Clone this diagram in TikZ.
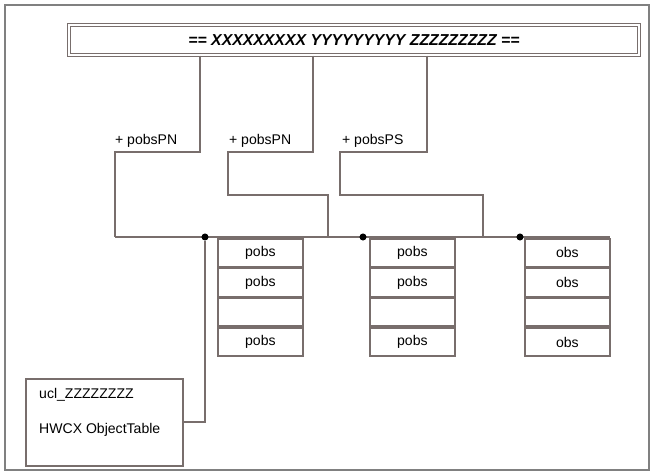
\documentclass[tikz,border=0pt]{standalone}
\usepackage{fontspec}
\setmainfont{Liberation Sans}
\usepackage{xcolor}
\usetikzlibrary{positioning, arrows.meta, calc}

\definecolor{wirecol}{RGB}{120,110,108}

\begin{document}
\begin{tikzpicture}[
    x=0.02cm, y=-0.02cm,
    node distance=0pt,
    wire/.style={draw=wirecol, line width=1pt},
    banner/.style={rectangle, draw=wirecol, double, double distance=1.2pt, line width=0.6pt, minimum width=11.4cm, minimum height=0.6cm, font=\small\bfseries\itshape},
    cell/.style={rectangle, draw=wirecol, line width=1pt, minimum width=1.7cm, minimum height=0.56cm, inner sep=0pt, font=\footnotesize},
    tag/.style={anchor=south west, inner sep=1pt, font=\footnotesize},
    dot/.style={circle, fill=black, inner sep=0pt, minimum size=4pt},
    box/.style={rectangle, draw=wirecol, line width=1pt, minimum width=3.14cm, minimum height=1.74cm, anchor=north west}
]
\useasboundingbox (0,0) rectangle (654,475);
\draw[gray, line width=0.6pt] (5,5) rectangle (649,470);

% banner on top
\node[banner] (banner) at (354,40) {== XXXXXXXXX YYYYYYYYY ZZZZZZZZZ ==};

% corner points of the wires
\coordinate (k1) at (200,152);
\coordinate (k2) at (313,152);
\coordinate (k3) at (427,152);
\coordinate (m2) at (228,195);
\coordinate (m3) at (340,195);
\coordinate (bus1) at (115,237);
\coordinate (bus2) at (328,237);
\coordinate (bus3) at (483,237);
\coordinate (busend) at (610,237);

\node[tag] (tag1) at (113,150) {+ pobsPN};
\node[tag] (tag2) at (227,150) {+ pobsPN};
\node[tag] (tag3) at (340,150) {+ pobsPS};

\draw[wire] (banner.south -| k1) -- (k1) -| (bus1);
\draw[wire] (banner.south -| k2) -- (k2) -| (m2) -| (bus2);
\draw[wire] (banner.south -| k3) -- (k3) -| (m3) -| (bus3);
\draw[wire] (bus1) -- (busend);

% the three tables
\node[cell, anchor=north west] (a1) at (217,238) {pobs};
\node[cell, below=of a1] (a2) {pobs};
\node[cell, below=of a2] (a3) {};
\node[cell, below=of a3] (a4) {pobs};

\node[cell, anchor=north west] (b1) at (369,238) {pobs};
\node[cell, below=of b1] (b2) {pobs};
\node[cell, below=of b2] (b3) {};
\node[cell, below=of b3] (b4) {pobs};

\node[cell, anchor=north west] (c1) at (524,238) {obs};
\node[cell, below=of c1] (c2) {obs};
\node[cell, below=of c2] (c3) {};
\node[cell, below=of c3] (c4) {obs};

\node[dot] (d1) at (205,237) {};
\node[dot] (d2) at (363,237) {};
\node[dot] (d3) at (520,237) {};

% object table box
\node[box] (ucl) at (25,378) {};
\node[anchor=west, font=\footnotesize] (ucltop) at ($(ucl.north west)+(8,17)$) {ucl\_ZZZZZZZZ};
\node[anchor=west, font=\footnotesize] (uclbot) at ($(ucl.north west)+(8,52)$) {HWCX ObjectTable};
\draw[wire] (d1) |- (ucl.east);

\end{tikzpicture}
\end{document}
